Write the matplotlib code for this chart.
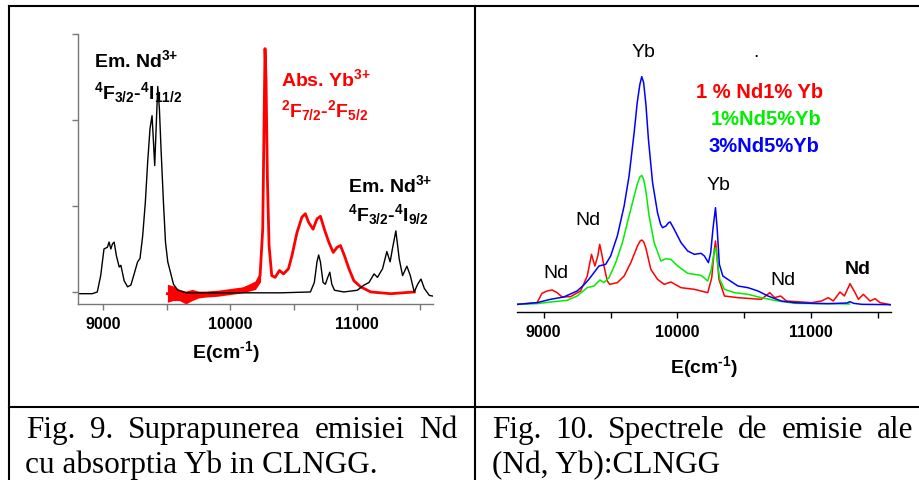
import numpy as np
import matplotlib
matplotlib.use("Agg")
import matplotlib.pyplot as plt
from matplotlib.lines import Line2D

plt.rcParams['font.family'] = ['Liberation Sans', 'DejaVu Sans']
plt.rcParams['mathtext.fontset'] = 'custom'
plt.rcParams['mathtext.rm'] = 'Liberation Sans:bold'
plt.rcParams['mathtext.bf'] = 'Liberation Sans:bold'
plt.rcParams['mathtext.default'] = 'bf'

W, H = 920, 481

# --- Fig. 9: Nd emission (black) and Yb absorption (red) ---
em_x = [8794, 8913, 8952, 8979, 9005, 9032, 9045, 9059, 9072, 9085, 9103, 9125,
        9138, 9164, 9191, 9217, 9243, 9270, 9289, 9310, 9331, 9349, 9368, 9384,
        9394, 9405, 9415, 9429, 9442, 9455, 9474, 9490, 9508, 9529, 9553, 9587,
        9654, 9800, 10000, 10200, 10400, 10633, 10664, 10685, 10698, 10712, 10733,
        10751, 10770, 10786, 10802, 10823, 10897, 11003, 11056, 11095, 11135,
        11162, 11202, 11236, 11262, 11281, 11307, 11334, 11360, 11394, 11421,
        11452, 11479, 11505, 11532, 11571, 11606]
em_y = [-0.02, -0.02, 0.0, 0.19, 0.5, 0.52, 0.58, 0.5, 0.56, 0.58, 0.42, 0.29,
        0.31, 0.13, 0.06, 0.08, 0.21, 0.35, 0.39, 0.65, 1.04, 1.5, 1.9, 2.05,
        1.78, 1.47, 1.86, 2.39, 2.13, 1.66, 1.04, 0.58, 0.35, 0.23, 0.09, 0.02,
        -0.01, -0.01, -0.01, -0.01, -0.01, 0.0, 0.11, 0.35, 0.43, 0.35, 0.11,
        0.09, 0.17, 0.23, 0.09, 0.02, 0.0, 0.02, 0.08, 0.11, 0.21,
        0.17, 0.27, 0.47, 0.35, 0.51, 0.71, 0.38, 0.19, 0.30, 0.19,
        0.0, 0.09, 0.15, 0.04, -0.04, -0.05]

abs_x = [9505, 9600, 9700, 9800, 9900, 10000, 10100, 10156, 10209, 10236, 10257,
         10267, 10275, 10283, 10294, 10307, 10328, 10355, 10389, 10421, 10460,
         10487, 10527, 10566, 10593, 10619, 10654, 10685, 10712, 10743, 10778,
         10813, 10844, 10870, 10902, 10937, 10976, 11029, 11109, 11267, 11453]
abs_y = [-0.02, -0.03, -0.03, -0.02, -0.01, 0.0, 0.03, 0.07, 0.11, 0.19, 0.73,
         1.9, 2.83, 2.48, 1.31, 0.54, 0.19, 0.17, 0.25, 0.21, 0.27,
         0.42, 0.69, 0.87, 0.91, 0.81, 0.73, 0.85, 0.88, 0.73, 0.58,
         0.46, 0.52, 0.54, 0.42, 0.27, 0.13, 0.06, 0.0, -0.02, 0.0]

# noisy envelope at the start of the absorption scan
noise_x = [9505, 9550, 9600, 9650, 9700, 9750, 9800, 9900, 10000, 10100, 10200, 10240]
noise_lo = [-0.12, -0.10, -0.10, -0.14, -0.10, -0.07, -0.06, -0.05, -0.03, -0.01, 0.03, 0.12]
noise_hi = [0.09, 0.07, 0.03, 0.01, 0.03, 0.01, 0.01, 0.02, 0.04, 0.06, 0.12, 0.24]

# --- Fig. 10: emission spectra ---
blue_x = [8805, 8950, 9050, 9150, 9250, 9300, 9338, 9376, 9414, 9464, 9501, 9551,
          9602, 9639, 9677, 9700, 9720, 9734, 9748, 9765, 9784, 9815, 9852, 9875,
          9890, 9915, 9935, 9947, 9977, 10028, 10078, 10128, 10178, 10203, 10233,
          10250, 10268, 10286, 10298, 10315, 10341, 10378, 10454, 10529, 10604,
          10679, 10779, 10880, 11005, 11130, 11270, 11293, 11320, 11381, 11606]
blue_y = [0.0, 0.05, 0.15, 0.22, 0.4, 0.58, 0.75, 0.95, 1.15, 1.2, 1.45, 2.05,
          2.95, 3.85, 5.15, 6.05, 6.6, 6.83, 6.65, 6.0, 4.95, 3.65, 2.75, 2.4,
          2.3, 2.35, 2.45, 2.47, 2.25, 1.85, 1.6, 1.5, 1.53, 1.45, 1.25,
          1.55, 2.3, 2.9, 2.3, 1.2, 0.85, 0.75, 0.55, 0.5, 0.4,
          0.25, 0.1, 0.05, 0.03, 0.02, 0.04, 0.08, 0.03, 0.0, -0.01]

green_x = [8805, 8950, 9050, 9175, 9250, 9326, 9376, 9421, 9451, 9489, 9539, 9589,
           9639, 9677, 9700, 9720, 9734, 9748, 9765, 9789, 9827, 9877, 9915, 9952,
           10003, 10078, 10178, 10228, 10255, 10275, 10288, 10300, 10318, 10353,
           10429, 10529, 10629, 10754, 10880, 11130, 11290]
green_y = [0.0, 0.02, 0.07, 0.12, 0.25, 0.5, 0.55, 0.73, 0.65, 0.8, 1.25, 1.85,
           2.65, 3.25, 3.6, 3.82, 3.87, 3.75, 3.4, 2.65, 1.85, 1.3, 1.37, 1.35,
           1.15, 0.93, 0.87, 0.7, 1.05, 1.55, 1.7, 1.3, 0.75, 0.45,
           0.35, 0.3, 0.2, 0.1, 0.03, 0.02, 0.01]

red_x = [8805, 8950, 8987, 9025, 9063, 9100, 9138, 9200, 9276, 9326, 9358, 9372,
         9383, 9405, 9419, 9435, 9451, 9476, 9494, 9551, 9602, 9652, 9702, 9722,
         9734, 9748, 9764, 9802, 9852, 9902, 9952, 10028, 10128, 10228, 10258,
         10276, 10286, 10296, 10312, 10353, 10454, 10629, 10692, 10729, 10774,
         10817, 11005, 11080, 11130, 11168, 11218, 11251, 11293, 11331, 11356,
         11393, 11443, 11481, 11518, 11606]
red_y = [0.0, 0.05, 0.33, 0.4, 0.43, 0.35, 0.22, 0.23, 0.4, 0.85, 1.5, 1.3,
         1.15, 1.45, 1.8, 1.5, 1.15, 0.7, 0.6, 0.65, 0.85, 1.25, 1.75, 1.9,
         1.93, 1.88, 1.7, 1.05, 0.75, 0.6, 0.67, 0.5, 0.45, 0.35, 0.8,
         1.6, 1.9, 1.5, 0.75, 0.25, 0.2, 0.15, 0.35, 0.2, 0.25,
         0.1, 0.05, 0.1, 0.2, 0.1, 0.37, 0.25, 0.62, 0.35, 0.15,
         0.3, 0.1, 0.17, 0.05, -0.02]

x_ticks = [9000, 10000, 11000]
x_minor = [9500, 10500, 11500]


def px_axes(left, top, right, bottom):
    return [left / W, 1 - bottom / H, (right - left) / W, (bottom - top) / H]


def justified(fig, words, x0, x1, y, **kw):
    r = fig.canvas.get_renderer()
    texts = [fig.text(0, 1 - y / H, w, va='baseline', **kw) for w in words]
    widths = [t.get_window_extent(r).width for t in texts]
    gap = (x1 - x0 - sum(widths)) / (len(words) - 1)
    x = x0
    for t, w in zip(texts, widths):
        t.set_x(x / W)
        x += w + gap


fig = plt.figure(figsize=(9.2, 4.81), dpi=100)

# ---------------- left panel ----------------
ax1 = fig.add_axes(px_axes(78, 35, 433, 305))
ax1.fill_between(noise_x, noise_lo, noise_hi, color='red', lw=0)
ax1.plot(abs_x, abs_y, color='red', lw=2.0)
ax1.plot(em_x, em_y, color='black', lw=1.0)
ax1.set_xlim(8800, 11600)
ax1.set_ylim(-0.14, 3.0)
ax1.set_xticks(x_ticks)
ax1.set_xticks(x_minor, minor=True)
ax1.set_yticks([0, 1, 2, 3])
ax1.set_yticklabels([])
for s in ['top', 'right']:
    ax1.spines[s].set_visible(False)
for s in ['left', 'bottom']:
    ax1.spines[s].set_color('#777777')
    ax1.spines[s].set_linewidth(1.0)
ax1.tick_params(axis='both', which='both', color='#777777', length=4, width=1)
ax1.tick_params(axis='x', labelsize=11.5, pad=5)
for lab in ax1.get_xticklabels():
    lab.set_fontweight('bold')

sup3 = r'$^{3\text{+}}$'
ax1.text(8926, 2.63, 'Em. Nd' + sup3, fontsize=14, fontweight='bold', va='baseline')
ax1.text(8926, 2.26, r'$^{4}$F$_{3/2}$-$^{4}$I$_{11/2}$', fontsize=14,
         fontweight='bold', va='baseline')
ax1.text(10402, 2.40, 'Abs. Yb' + sup3, fontsize=14, fontweight='bold',
         color='red', va='baseline')
ax1.text(10402, 2.05, r'$^{2}$F$_{7/2}$-$^{2}$F$_{5/2}$', fontsize=14,
         fontweight='bold', color='red', va='baseline')
ax1.text(10926, 1.17, 'Em. Nd' + sup3, fontsize=14, fontweight='bold', va='baseline')
ax1.text(10926, 0.83, r'$^{4}$F$_{3/2}$-$^{4}$I$_{9/2}$', fontsize=14,
         fontweight='bold', va='baseline')
xlab = r'E(cm$^{\text{-}1}$)'
fig.text(226 / W, 1 - 358 / H, xlab, fontsize=14, fontweight='bold',
         ha='center', va='baseline')

# ---------------- right panel ----------------
ax2 = fig.add_axes(px_axes(517, 35, 891, 313))
ax2.plot(red_x, red_y, color='#ff0000', lw=1.1)
ax2.plot(green_x, green_y, color='#00ee00', lw=1.1)
ax2.plot(blue_x, blue_y, color='#0000ff', lw=1.1)
ax2.set_xlim(8800, 11600)
ax2.set_ylim(-0.23, 8.11)
ax2.set_xticks(x_ticks)
ax2.set_xticks(x_minor, minor=True)
ax2.set_yticks([])
for s in ['top', 'right', 'left']:
    ax2.spines[s].set_visible(False)
ax2.spines['bottom'].set_linewidth(1.0)
ax2.tick_params(axis='x', which='both', length=4, width=1)
ax2.tick_params(axis='x', labelsize=11.5, pad=5)
for lab in ax2.get_xticklabels():
    lab.set_fontweight('bold')

ax2.text(9747, 7.45, 'Yb', fontsize=14, ha='center', va='baseline')
ax2.text(10591, 7.45, '.', fontsize=14, ha='center', va='baseline')
ax2.text(10619, 6.22, '1 % Nd1% Yb', fontsize=14.5, fontweight='bold',
         color='#ff0000', ha='center', va='baseline')
ax2.text(10667, 5.40, '1%Nd5%Yb', fontsize=14.5, fontweight='bold',
         color='#00ee00', ha='center', va='baseline')
ax2.text(10652, 4.60, '3%Nd5%Yb', fontsize=14.5, fontweight='bold',
         color='#0000ff', ha='center', va='baseline')
ax2.text(10306, 3.45, 'Yb', fontsize=14, ha='center', va='baseline')
ax2.text(9328, 2.40, 'Nd', fontsize=14, ha='center', va='baseline')
ax2.text(9093, 0.82, 'Nd', fontsize=14, ha='center', va='baseline')
ax2.text(10789, 0.60, 'Nd', fontsize=14, ha='center', va='baseline')
ax2.text(11351, 0.95, 'Nd', fontsize=14, fontweight='bold', ha='center', va='baseline')
fig.text(704 / W, 1 - 373 / H, xlab, fontsize=14, fontweight='bold',
         ha='center', va='baseline')

# ---------------- table borders ----------------
lw = 1.5
fig.add_artist(Line2D([9 / W, 1], [1 - 7 / H] * 2, color='black', lw=lw))
fig.add_artist(Line2D([9 / W] * 2, [0, 1 - 7 / H], color='black', lw=lw))
fig.add_artist(Line2D([475 / W] * 2, [0, 1 - 7 / H], color='black', lw=lw))
fig.add_artist(Line2D([9 / W, 1], [1 - 408 / H] * 2, color='black', lw=lw))

# ---------------- captions ----------------
cap = dict(fontsize=22.5, family=['Liberation Serif', 'DejaVu Serif'])
justified(fig, 'Fig. 9. Suprapunerea emisiei Nd'.split(), 26, 457, 438, **cap)
fig.text(25 / W, 1 - 473 / H, 'cu absorptia Yb in CLNGG.', va='baseline', **cap)
justified(fig, 'Fig. 10. Spectrele de emisie ale'.split(), 492, 913, 438, **cap)
fig.text(492 / W, 1 - 473 / H, '(Nd, Yb):CLNGG', va='baseline', **cap)

fig.savefig('out.png', dpi=100)
